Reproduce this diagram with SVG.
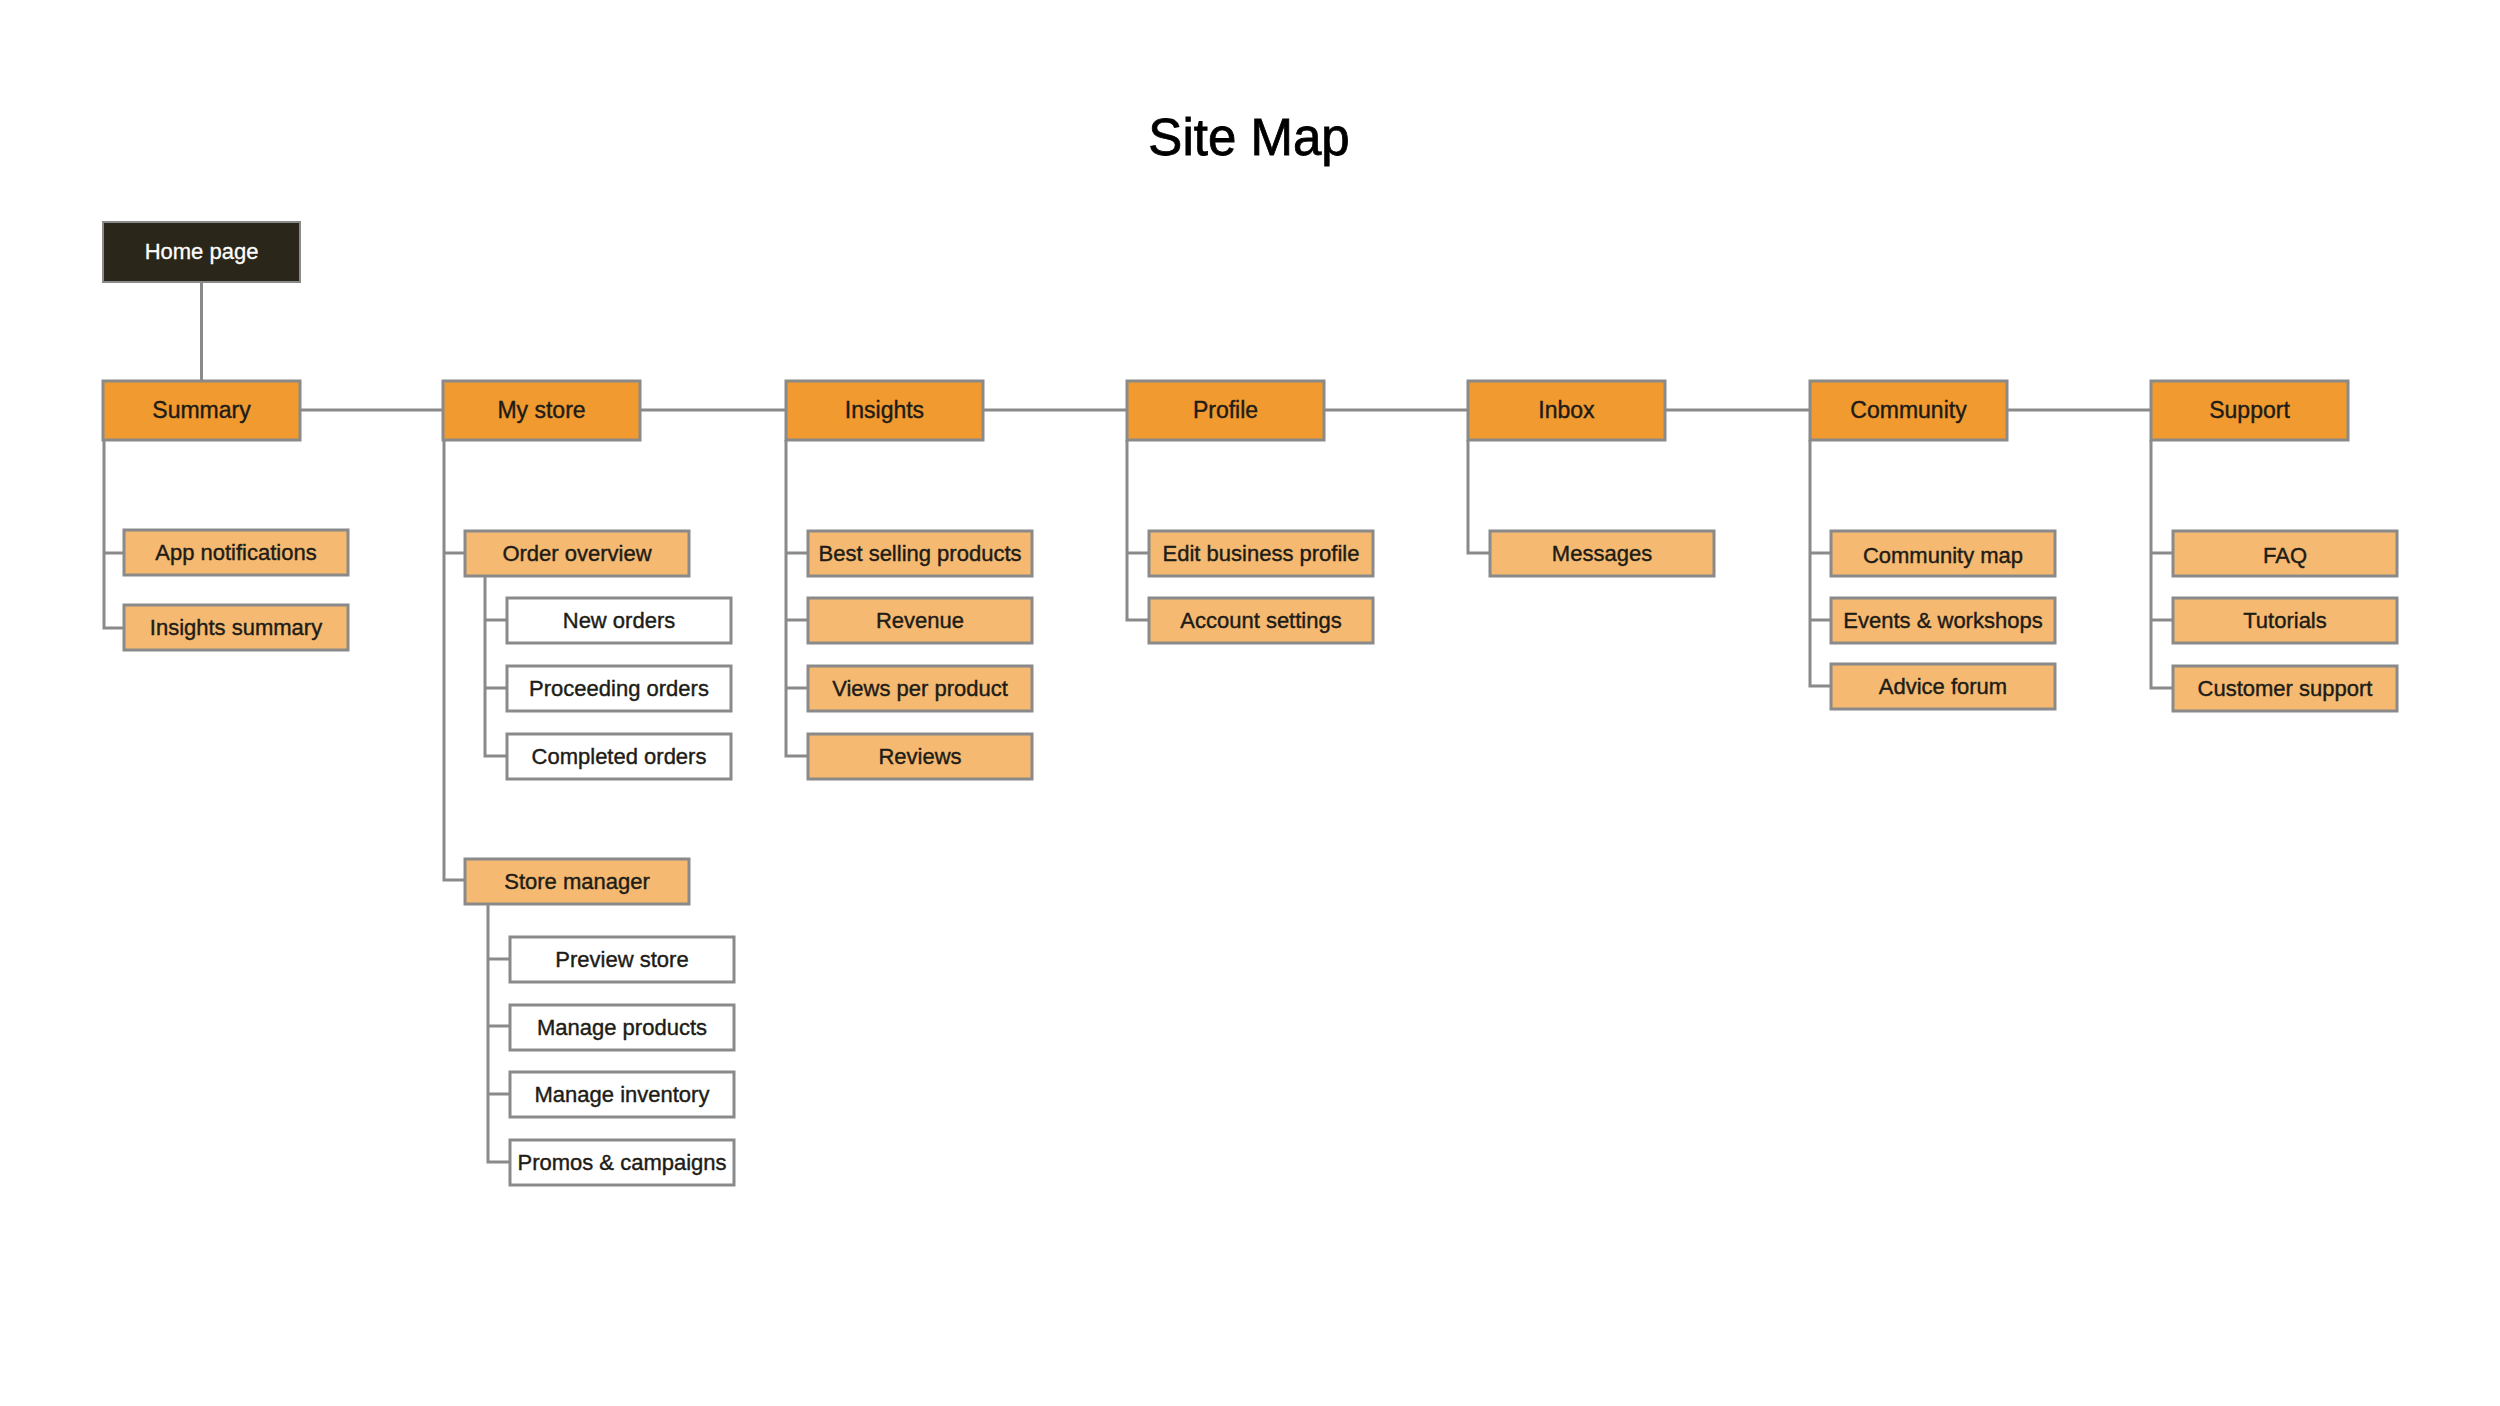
<svg xmlns="http://www.w3.org/2000/svg" width="2500" height="1406" viewBox="0 0 2500 1406">
<style>
.l1{fill:#F09A30;stroke:#8A8A8A;stroke-width:3}
.l2{fill:#F5B971;stroke:#8A8A8A;stroke-width:3}
.l3{fill:#FFFFFF;stroke:#8A8A8A;stroke-width:3}
.home{fill:#2A2619;stroke:#8A8A8A;stroke-width:2}
.t{font-family:"Liberation Sans",Arial,sans-serif;font-size:22px;fill:#1E1C16;stroke:#1E1C16;stroke-width:0.4;text-anchor:middle}
.t1{font-family:"Liberation Sans",Arial,sans-serif;font-size:23px;fill:#1E1C16;stroke:#1E1C16;stroke-width:0.4;text-anchor:middle}
.th{font-family:"Liberation Sans",Arial,sans-serif;font-size:22px;fill:#FFFFFF;stroke:#FFFFFF;stroke-width:0.3;text-anchor:middle}
.title{font-family:"Liberation Sans",Arial,sans-serif;font-size:51px;fill:#000;stroke:#000;stroke-width:0.8;text-anchor:middle}
.c{fill:none;stroke:#8A8A8A;stroke-width:3}
</style>
<rect width="2500" height="1406" fill="#FFFFFF"/>
<text class="title" x="1249" y="155">Site Map</text>

<g id="connectors">
<path class="c" d="M201.5 282 V381"/>
<path class="c" d="M300 410 H443 M640 410 H786 M983 410 H1127 M1324 410 H1468 M1665 410 H1810 M2007 410 H2151"/>
<path class="c" d="M104 440 V628 H124 M104 553 H124"/>
<path class="c" d="M444 440 V880 H465 M444 553 H465"/>
<path class="c" d="M485 576 V756 H507 M485 620 H507 M485 688 H507"/>
<path class="c" d="M488 904 V1162 H510 M488 959 H510 M488 1026 H510 M488 1094 H510"/>
<path class="c" d="M786 440 V756 H808 M786 553 H808 M786 620 H808 M786 688 H808"/>
<path class="c" d="M1127 440 V620 H1149 M1127 553 H1149"/>
<path class="c" d="M1468 440 V553 H1490"/>
<path class="c" d="M1810 440 V686 H1831 M1810 553 H1831 M1810 620 H1831"/>
<path class="c" d="M2151 440 V688 H2173 M2151 553 H2173 M2151 620 H2173"/>
</g>

<g id="home"><rect class="home" x="103" y="222" width="197" height="60"/><text class="th" x="201.5" y="259">Home page</text></g>

<g id="summary"><rect class="l1" x="103" y="381" width="197" height="59"/><text class="t1" x="201.5" y="418">Summary</text></g>
<g id="mystore"><rect class="l1" x="443" y="381" width="197" height="59"/><text class="t1" x="541.5" y="418">My store</text></g>
<g id="insights"><rect class="l1" x="786" y="381" width="197" height="59"/><text class="t1" x="884.5" y="418">Insights</text></g>
<g id="profile"><rect class="l1" x="1127" y="381" width="197" height="59"/><text class="t1" x="1225.5" y="418">Profile</text></g>
<g id="inbox"><rect class="l1" x="1468" y="381" width="197" height="59"/><text class="t1" x="1566.5" y="418">Inbox</text></g>
<g id="community"><rect class="l1" x="1810" y="381" width="197" height="59"/><text class="t1" x="1908.5" y="418">Community</text></g>
<g id="support"><rect class="l1" x="2151" y="381" width="197" height="59"/><text class="t1" x="2249.5" y="418">Support</text></g>

<g id="app-notifications"><rect class="l2" x="124" y="530" width="224" height="45"/><text class="t" x="236" y="560">App notifications</text></g>
<g id="insights-summary"><rect class="l2" x="124" y="605" width="224" height="45"/><text class="t" x="236" y="635">Insights summary</text></g>

<g id="order-overview"><rect class="l2" x="465" y="531" width="224" height="45"/><text class="t" x="577" y="561">Order overview</text></g>
<g id="new-orders"><rect class="l3" x="507" y="598" width="224" height="45"/><text class="t" x="619" y="628">New orders</text></g>
<g id="proceeding-orders"><rect class="l3" x="507" y="666" width="224" height="45"/><text class="t" x="619" y="696">Proceeding orders</text></g>
<g id="completed-orders"><rect class="l3" x="507" y="734" width="224" height="45"/><text class="t" x="619" y="764">Completed orders</text></g>

<g id="store-manager"><rect class="l2" x="465" y="859" width="224" height="45"/><text class="t" x="577" y="889">Store manager</text></g>
<g id="preview-store"><rect class="l3" x="510" y="937" width="224" height="45"/><text class="t" x="622" y="967">Preview store</text></g>
<g id="manage-products"><rect class="l3" x="510" y="1005" width="224" height="45"/><text class="t" x="622" y="1035">Manage products</text></g>
<g id="manage-inventory"><rect class="l3" x="510" y="1072" width="224" height="45"/><text class="t" x="622" y="1102">Manage inventory</text></g>
<g id="promos-campaigns"><rect class="l3" x="510" y="1140" width="224" height="45"/><text class="t" x="622" y="1170">Promos &amp; campaigns</text></g>

<g id="best-selling"><rect class="l2" x="808" y="531" width="224" height="45"/><text class="t" x="920" y="561">Best selling products</text></g>
<g id="revenue"><rect class="l2" x="808" y="598" width="224" height="45"/><text class="t" x="920" y="628">Revenue</text></g>
<g id="views-per-product"><rect class="l2" x="808" y="666" width="224" height="45"/><text class="t" x="920" y="696">Views per product</text></g>
<g id="reviews"><rect class="l2" x="808" y="734" width="224" height="45"/><text class="t" x="920" y="764">Reviews</text></g>

<g id="edit-business-profile"><rect class="l2" x="1149" y="531" width="224" height="45"/><text class="t" x="1261" y="561">Edit business profile</text></g>
<g id="account-settings"><rect class="l2" x="1149" y="598" width="224" height="45"/><text class="t" x="1261" y="628">Account settings</text></g>

<g id="messages"><rect class="l2" x="1490" y="531" width="224" height="45"/><text class="t" x="1602" y="561">Messages</text></g>

<g id="community-map"><rect class="l2" x="1831" y="531" width="224" height="45"/><text class="t" x="1943" y="563">Community map</text></g>
<g id="events-workshops"><rect class="l2" x="1831" y="598" width="224" height="45"/><text class="t" x="1943" y="628">Events &amp; workshops</text></g>
<g id="advice-forum"><rect class="l2" x="1831" y="664" width="224" height="45"/><text class="t" x="1943" y="694">Advice forum</text></g>

<g id="faq"><rect class="l2" x="2173" y="531" width="224" height="45"/><text class="t" x="2285" y="563">FAQ</text></g>
<g id="tutorials"><rect class="l2" x="2173" y="598" width="224" height="45"/><text class="t" x="2285" y="628">Tutorials</text></g>
<g id="customer-support"><rect class="l2" x="2173" y="666" width="224" height="45"/><text class="t" x="2285" y="696">Customer support</text></g>
</svg>
